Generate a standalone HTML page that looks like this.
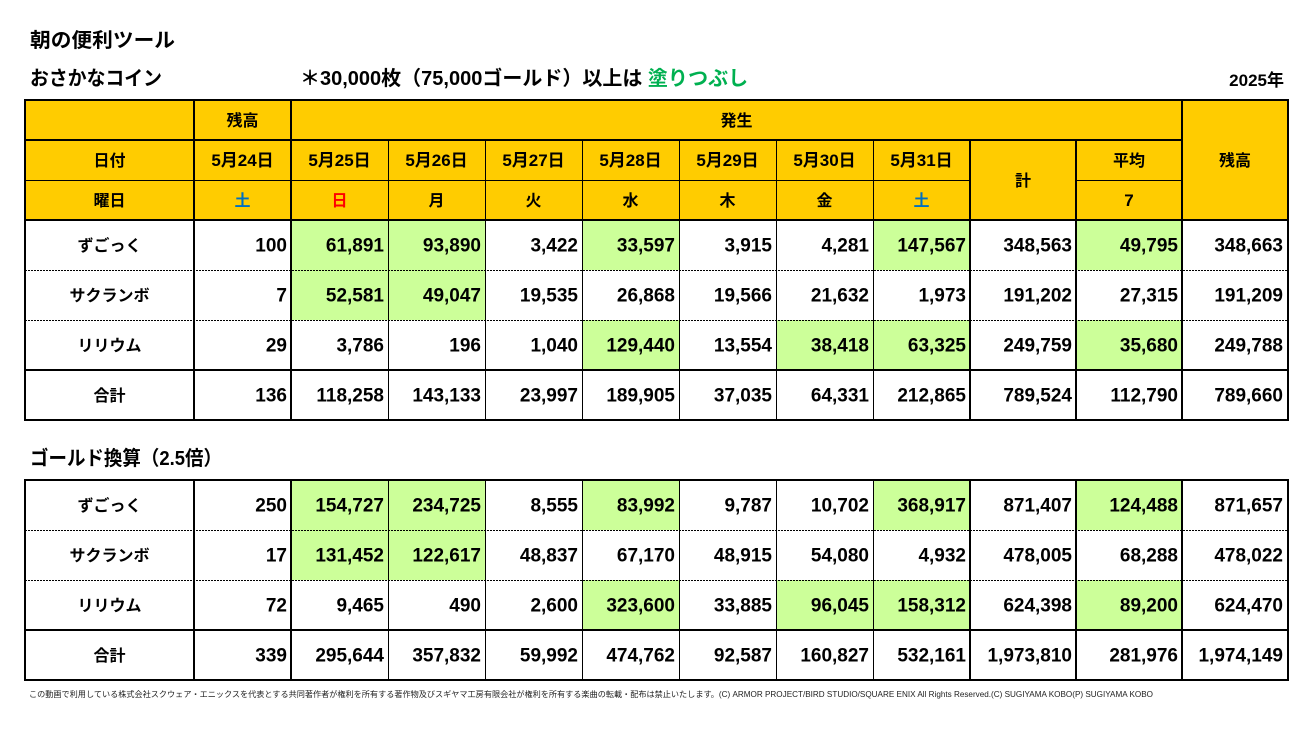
<!DOCTYPE html>
<html><head><meta charset="utf-8"><style>
html,body{margin:0;padding:0;background:#fff;}
svg{display:block;}
text{font-family:"Liberation Sans","Noto Sans CJK JP",sans-serif;font-weight:bold;fill:#000;}
.h{font-size:16px;text-anchor:middle;}
.d{font-size:17px;text-anchor:middle;}
.l{font-size:16px;text-anchor:middle;}
.n{font-size:19px;text-anchor:end;}
</style></head><body>
<svg width="1314" height="733" viewBox="0 0 1314 733" xmlns="http://www.w3.org/2000/svg">
<rect x="0" y="0" width="1314" height="733" fill="#fff"/>
<!-- titles -->
<text x="30" y="47" font-size="20" textLength="145" lengthAdjust="spacingAndGlyphs">朝の便利ツール</text>
<text x="30" y="85" font-size="20" textLength="132" lengthAdjust="spacingAndGlyphs">おさかなコイン</text>
<text x="300" y="85" font-size="20">＊30,000枚（75,000ゴールド）以上は <tspan style="fill:#00B050">塗りつぶし</tspan></text>
<text x="1284" y="86" font-size="17" text-anchor="end">2025年</text>
<text x="30" y="465" font-size="20" textLength="192" lengthAdjust="spacingAndGlyphs">ゴールド換算（2.5倍）</text>

<!-- fills table1 -->
<rect x="25" y="100" width="1263" height="120" fill="#FFCC00"/>
<g fill="#CCFF99">
<rect x="291" y="220" width="97" height="50"/><rect x="388" y="220" width="97" height="50"/><rect x="582" y="220" width="97" height="50"/><rect x="873" y="220" width="97" height="50"/><rect x="1076" y="220" width="106" height="50"/>
<rect x="291" y="270" width="97" height="50"/><rect x="388" y="270" width="97" height="50"/>
<rect x="582" y="320" width="97" height="50"/><rect x="776" y="320" width="97" height="50"/><rect x="873" y="320" width="97" height="50"/><rect x="1076" y="320" width="106" height="50"/>
<!-- table2 -->
<rect x="291" y="480" width="97" height="50"/><rect x="388" y="480" width="97" height="50"/><rect x="582" y="480" width="97" height="50"/><rect x="873" y="480" width="97" height="50"/><rect x="1076" y="480" width="106" height="50"/>
<rect x="291" y="530" width="97" height="50"/><rect x="388" y="530" width="97" height="50"/>
<rect x="582" y="580" width="97" height="50"/><rect x="776" y="580" width="97" height="50"/><rect x="873" y="580" width="97" height="50"/><rect x="1076" y="580" width="106" height="50"/>
</g>

<!-- lines table1 -->
<g stroke="#000" fill="none">
<rect x="25" y="100" width="1263" height="320" stroke-width="2"/>
<line x1="25" y1="140" x2="1182" y2="140" stroke-width="2"/>
<line x1="25" y1="180.5" x2="970" y2="180.5" stroke-width="1"/>
<line x1="1076" y1="180.5" x2="1182" y2="180.5" stroke-width="1"/>
<line x1="25" y1="220" x2="1288" y2="220" stroke-width="2"/>
<line x1="25" y1="370" x2="1288" y2="370" stroke-width="2"/>
<line x1="25" y1="270.5" x2="1288" y2="270.5" stroke-width="1" stroke-dasharray="2 1"/>
<line x1="25" y1="320.5" x2="1288" y2="320.5" stroke-width="1" stroke-dasharray="2 1"/>
<line x1="194" y1="100" x2="194" y2="420" stroke-width="2"/>
<line x1="291" y1="100" x2="291" y2="420" stroke-width="2"/>
<line x1="1182" y1="100" x2="1182" y2="420" stroke-width="2"/>
<line x1="970" y1="140" x2="970" y2="420" stroke-width="2"/>
<line x1="1076" y1="140" x2="1076" y2="420" stroke-width="2"/>
<line x1="388.5" y1="140" x2="388.5" y2="420" stroke-width="1"/>
<line x1="485.5" y1="140" x2="485.5" y2="420" stroke-width="1"/>
<line x1="582.5" y1="140" x2="582.5" y2="420" stroke-width="1"/>
<line x1="679.5" y1="140" x2="679.5" y2="420" stroke-width="1"/>
<line x1="776.5" y1="140" x2="776.5" y2="420" stroke-width="1"/>
<line x1="873.5" y1="140" x2="873.5" y2="420" stroke-width="1"/>

<!-- lines table2 -->
<rect x="25" y="480" width="1263" height="200" stroke-width="2"/>
<line x1="25" y1="630" x2="1288" y2="630" stroke-width="2"/>
<line x1="25" y1="530.5" x2="1288" y2="530.5" stroke-width="1" stroke-dasharray="2 1"/>
<line x1="25" y1="580.5" x2="1288" y2="580.5" stroke-width="1" stroke-dasharray="2 1"/>
<line x1="194" y1="480" x2="194" y2="680" stroke-width="2"/>
<line x1="291" y1="480" x2="291" y2="680" stroke-width="2"/>
<line x1="970" y1="480" x2="970" y2="680" stroke-width="2"/>
<line x1="1076" y1="480" x2="1076" y2="680" stroke-width="2"/>
<line x1="1182" y1="480" x2="1182" y2="680" stroke-width="2"/>
<line x1="388.5" y1="480" x2="388.5" y2="680" stroke-width="1"/>
<line x1="485.5" y1="480" x2="485.5" y2="680" stroke-width="1"/>
<line x1="582.5" y1="480" x2="582.5" y2="680" stroke-width="1"/>
<line x1="679.5" y1="480" x2="679.5" y2="680" stroke-width="1"/>
<line x1="776.5" y1="480" x2="776.5" y2="680" stroke-width="1"/>
<line x1="873.5" y1="480" x2="873.5" y2="680" stroke-width="1"/>
</g>

<!-- header text -->
<text class="h" x="242.5" y="126">残高</text>
<text class="h" x="736.5" y="126">発生</text>
<text class="h" x="1235" y="166">残高</text>
<text class="h" x="109.5" y="166">日付</text>
<text class="d" x="242.5" y="166">5月24日</text>
<text class="d" x="339.5" y="166">5月25日</text>
<text class="d" x="436.5" y="166">5月26日</text>
<text class="d" x="533.5" y="166">5月27日</text>
<text class="d" x="630.5" y="166">5月28日</text>
<text class="d" x="727.5" y="166">5月29日</text>
<text class="d" x="824.5" y="166">5月30日</text>
<text class="d" x="921.5" y="166">5月31日</text>
<text class="h" x="1023" y="186">計</text>
<text class="h" x="1129" y="166">平均</text>
<text class="h" x="109.5" y="206">曜日</text>
<text class="h" x="242.5" y="206" style="fill:#0070C0">土</text>
<text class="h" x="339.5" y="206" style="fill:#FF0000">日</text>
<text class="h" x="436.5" y="206">月</text>
<text class="h" x="533.5" y="206">火</text>
<text class="h" x="630.5" y="206">水</text>
<text class="h" x="727.5" y="206">木</text>
<text class="h" x="824.5" y="206">金</text>
<text class="h" x="921.5" y="206" style="fill:#0070C0">土</text>
<text class="d" x="1129" y="206">7</text>

<!-- table1 labels -->
<text class="l" x="109.5" y="251">ずごっく</text>
<text class="l" x="109.5" y="301">サクランボ</text>
<text class="l" x="109.5" y="351">リリウム</text>
<text class="l" x="109.5" y="401">合計</text>
<!-- table1 numbers -->
<g class="nums">
<text class="n" x="287" y="251.5">100</text><text class="n" x="384" y="251.5">61,891</text><text class="n" x="481" y="251.5">93,890</text><text class="n" x="578" y="251.5">3,422</text><text class="n" x="675" y="251.5">33,597</text><text class="n" x="772" y="251.5">3,915</text><text class="n" x="869" y="251.5">4,281</text><text class="n" x="966" y="251.5">147,567</text><text class="n" x="1072" y="251.5">348,563</text><text class="n" x="1178" y="251.5">49,795</text><text class="n" x="1283" y="251.5">348,663</text>
<text class="n" x="287" y="301.5">7</text><text class="n" x="384" y="301.5">52,581</text><text class="n" x="481" y="301.5">49,047</text><text class="n" x="578" y="301.5">19,535</text><text class="n" x="675" y="301.5">26,868</text><text class="n" x="772" y="301.5">19,566</text><text class="n" x="869" y="301.5">21,632</text><text class="n" x="966" y="301.5">1,973</text><text class="n" x="1072" y="301.5">191,202</text><text class="n" x="1178" y="301.5">27,315</text><text class="n" x="1283" y="301.5">191,209</text>
<text class="n" x="287" y="351.5">29</text><text class="n" x="384" y="351.5">3,786</text><text class="n" x="481" y="351.5">196</text><text class="n" x="578" y="351.5">1,040</text><text class="n" x="675" y="351.5">129,440</text><text class="n" x="772" y="351.5">13,554</text><text class="n" x="869" y="351.5">38,418</text><text class="n" x="966" y="351.5">63,325</text><text class="n" x="1072" y="351.5">249,759</text><text class="n" x="1178" y="351.5">35,680</text><text class="n" x="1283" y="351.5">249,788</text>
<text class="n" x="287" y="401.5">136</text><text class="n" x="384" y="401.5">118,258</text><text class="n" x="481" y="401.5">143,133</text><text class="n" x="578" y="401.5">23,997</text><text class="n" x="675" y="401.5">189,905</text><text class="n" x="772" y="401.5">37,035</text><text class="n" x="869" y="401.5">64,331</text><text class="n" x="966" y="401.5">212,865</text><text class="n" x="1072" y="401.5">789,524</text><text class="n" x="1178" y="401.5">112,790</text><text class="n" x="1283" y="401.5">789,660</text>
</g>

<!-- table2 labels -->
<text class="l" x="109.5" y="511">ずごっく</text>
<text class="l" x="109.5" y="561">サクランボ</text>
<text class="l" x="109.5" y="611">リリウム</text>
<text class="l" x="109.5" y="661">合計</text>
<g>
<text class="n" x="287" y="511.5">250</text><text class="n" x="384" y="511.5">154,727</text><text class="n" x="481" y="511.5">234,725</text><text class="n" x="578" y="511.5">8,555</text><text class="n" x="675" y="511.5">83,992</text><text class="n" x="772" y="511.5">9,787</text><text class="n" x="869" y="511.5">10,702</text><text class="n" x="966" y="511.5">368,917</text><text class="n" x="1072" y="511.5">871,407</text><text class="n" x="1178" y="511.5">124,488</text><text class="n" x="1283" y="511.5">871,657</text>
<text class="n" x="287" y="561.5">17</text><text class="n" x="384" y="561.5">131,452</text><text class="n" x="481" y="561.5">122,617</text><text class="n" x="578" y="561.5">48,837</text><text class="n" x="675" y="561.5">67,170</text><text class="n" x="772" y="561.5">48,915</text><text class="n" x="869" y="561.5">54,080</text><text class="n" x="966" y="561.5">4,932</text><text class="n" x="1072" y="561.5">478,005</text><text class="n" x="1178" y="561.5">68,288</text><text class="n" x="1283" y="561.5">478,022</text>
<text class="n" x="287" y="611.5">72</text><text class="n" x="384" y="611.5">9,465</text><text class="n" x="481" y="611.5">490</text><text class="n" x="578" y="611.5">2,600</text><text class="n" x="675" y="611.5">323,600</text><text class="n" x="772" y="611.5">33,885</text><text class="n" x="869" y="611.5">96,045</text><text class="n" x="966" y="611.5">158,312</text><text class="n" x="1072" y="611.5">624,398</text><text class="n" x="1178" y="611.5">89,200</text><text class="n" x="1283" y="611.5">624,470</text>
<text class="n" x="287" y="661.5">339</text><text class="n" x="384" y="661.5">295,644</text><text class="n" x="481" y="661.5">357,832</text><text class="n" x="578" y="661.5">59,992</text><text class="n" x="675" y="661.5">474,762</text><text class="n" x="772" y="661.5">92,587</text><text class="n" x="869" y="661.5">160,827</text><text class="n" x="966" y="661.5">532,161</text><text class="n" x="1072" y="661.5">1,973,810</text><text class="n" x="1178" y="661.5">281,976</text><text class="n" x="1283" y="661.5">1,974,149</text>
</g>

<!-- footer -->
<text x="29" y="697" font-size="8" style="font-weight:normal;fill:#222" textLength="1124" lengthAdjust="spacingAndGlyphs">この動画で利用している株式会社スクウェア・エニックスを代表とする共同著作者が権利を所有する著作物及びスギヤマ工房有限会社が権利を所有する楽曲の転載・配布は禁止いたします。(C) ARMOR PROJECT/BIRD STUDIO/SQUARE ENIX All Rights Reserved.(C) SUGIYAMA KOBO(P) SUGIYAMA KOBO</text>
</svg>
</body></html>
